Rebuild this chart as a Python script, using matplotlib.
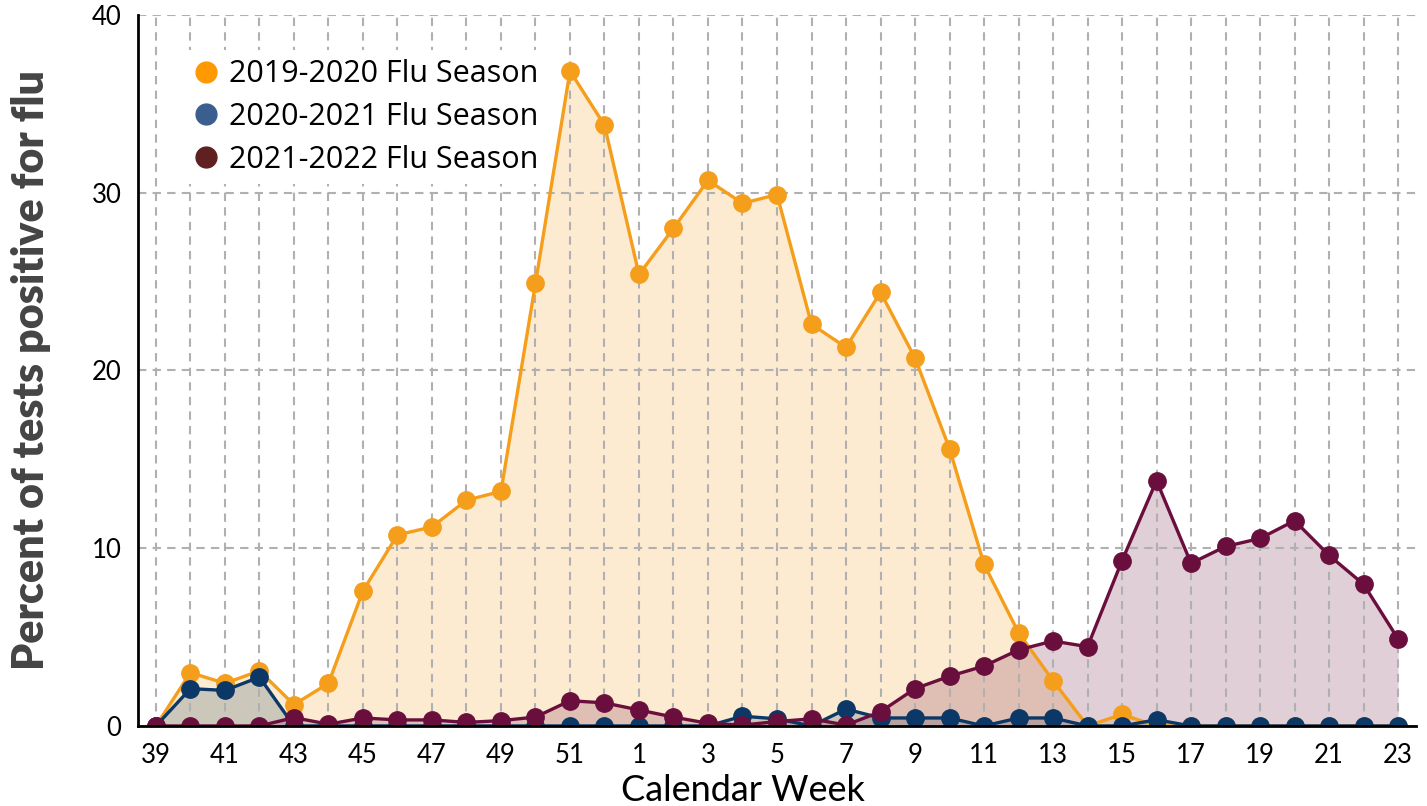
import matplotlib.pyplot as plt
from matplotlib.lines import Line2D

plt.rcParams['font.family'] = ['Lato', 'DejaVu Sans']

# calendar weeks 39..52 then 1..23
weeks = list(range(39, 53)) + list(range(1, 24))

season_1920 = [0, 3.0, 2.4, 3.1, 1.2, 2.4, 7.6, 10.75, 11.2, 12.7, 13.2, 24.9, 36.85,
               33.8, 25.4, 28.0, 30.7, 29.4, 29.9, 22.6, 21.3, 24.4, 20.7, 15.6, 9.1,
               5.25, 2.55, 0, 0.65, 0, 0, 0, 0, 0, 0, 0, 0]
season_2021 = [0, 2.1, 2.0, 2.75, 0, 0, 0, 0, 0, 0, 0, 0, 0,
               0, 0, 0, 0, 0.55, 0.4, 0, 0.95, 0.45, 0.45, 0.45, 0,
               0.45, 0.45, 0, 0, 0.35, 0, 0, 0, 0, 0, 0, 0]
season_2122 = [0, 0, 0, 0, 0.47, 0.1, 0.45, 0.34, 0.34, 0.2, 0.3, 0.5, 1.42,
               1.3, 0.9, 0.5, 0.15, 0.05, 0.25, 0.4, 0.05, 0.8, 2.1, 2.8, 3.37,
               4.28, 4.78, 4.46, 9.3, 13.8, 9.15, 10.1, 10.55, 11.55, 9.6, 7.97, 4.9]

labels = ['2019-2020 Flu Season', '2020-2021 Flu Season', '2021-2022 Flu Season']
line_colors = ['#f59e1b', '#0b3866', '#6a0f3d']
legend_colors = ['#ff9900', '#3a5f8f', '#5e2020']

fig = plt.figure(figsize=(14.27, 8.06), dpi=100)
ax = fig.add_axes([0.0967, 0.0993, 0.8956, 0.8821])

x = list(range(len(weeks)))
for vals, c in zip([season_1920, season_2021, season_2122], line_colors):
    ax.fill_between(x, 0, vals, color=c, alpha=0.2, linewidth=0)
    ax.plot(x, vals, color=c, linewidth=2.4, marker='o', markersize=12.5)

ax.set_xlim(-0.52, len(weeks) - 0.48)
ax.set_ylim(0, 40)
ax.set_xticks(x)
ax.set_xticklabels([str(w) if i % 2 == 0 else '' for i, w in enumerate(weeks)])
ax.set_yticks([0, 10, 20, 30, 40])
ax.tick_params(length=0, labelsize=18.5, pad=12)
ax.grid(True, color='#b0b0b0', linestyle=(0, (4, 3)), linewidth=1.5)
for s in ['top', 'right']:
    ax.spines[s].set_visible(False)
ax.spines['left'].set_linewidth(2)
ax.spines['bottom'].set_linewidth(2)

ax.set_xlabel('Calendar Week', fontsize=26)
ax.xaxis.set_label_coords(0.473, -0.067, transform=ax.transAxes)
ax.xaxis.label.set_va('top')
ax.set_ylabel('Percent of tests positive for flu', fontsize=31, fontweight='heavy',
              color='#444444', labelpad=29)

handles = [Line2D([], [], linestyle='none', marker='o', markersize=15, color=c)
           for c in legend_colors]
leg = ax.legend(handles, labels, loc='upper left', bbox_to_anchor=(0.022, 0.972),
                prop={'family': ['Open Sans', 'DejaVu Sans'], 'size': 22},
                frameon=True, framealpha=1, edgecolor='none', handlelength=1.0,
                handletextpad=0.25, labelspacing=0.42, borderpad=0.3, fancybox=False)

fig.savefig('out.png', dpi=100)
